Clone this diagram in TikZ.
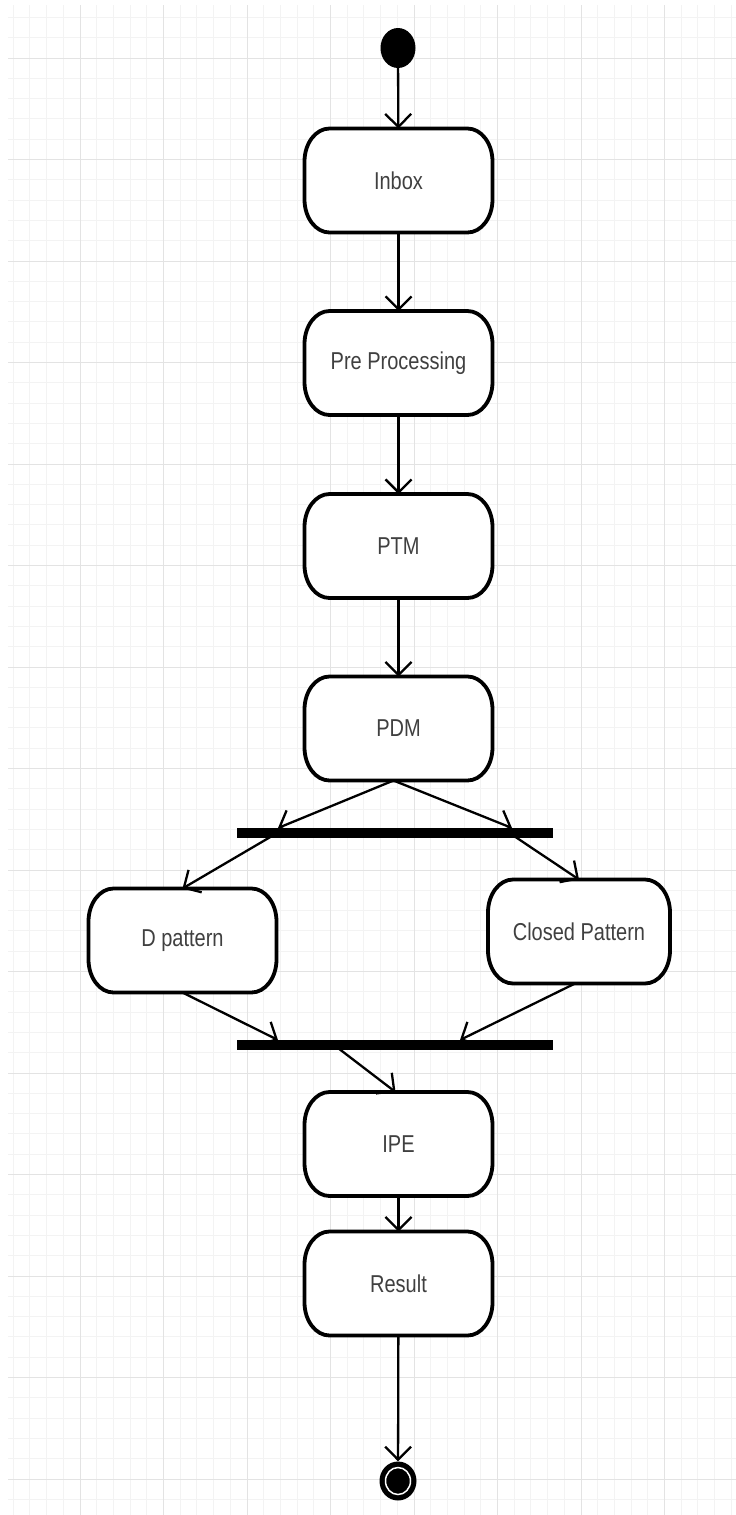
\documentclass[tikz,border=0pt]{standalone}
\usepackage{fontspec}
\setmainfont{Liberation Sans}
\usetikzlibrary{arrows.meta,shapes.geometric,calc,backgrounds}
\definecolor{txtcol}{HTML}{404040}
\definecolor{gridminor}{HTML}{F3F3F3}
\definecolor{gridmajor}{HTML}{E3E3E3}
\newcommand{\tallt}[1]{\scalebox{1}[1.22]{#1}}
\tikzset{
  act/.style={draw=none, minimum width=188pt, minimum height=104pt, inner sep=0pt,
    outer sep=0pt, text=txtcol, font=\fontsize{20}{24}\selectfont},
  actborder/.style={draw=black, fill=white, line width=3.8pt, line join=round},
  arr/.style={line width=2.3pt, -{Straight Barb[length=13pt,width=26pt,line width=2.3pt]}},
  bar/.style={fill=black, minimum width=316pt, minimum height=10pt, inner sep=0pt},
}
\begin{document}
\begin{tikzpicture}[x=1pt,y=-1pt]
\useasboundingbox (0,0) rectangle (736,1515);
% activities (text)
\node[act] (inbox) at (398.5,180.5) {\tallt{Inbox}};
\node[act] (pre) at (398.5,363) {\tallt{Pre Processing}};
\node[act] (ptm) at (398.5,546) {\tallt{PTM}};
\node[act] (pdm) at (398.5,728.5) {\tallt{PDM}};
\node[act] (dp) at (182.5,940.5) {\tallt{D pattern}};
\node[act, minimum width=182pt] (cp) at (579,931.5) {\tallt{Closed Pattern}};
\node[act] (ipe) at (398.5,1144) {\tallt{IPE}};
\node[act] (res) at (398.5,1283.5) {\tallt{Result}};
\begin{scope}[on background layer]
\fill[white] (0,0) rectangle (736,1515);
% grid
\foreach \i in {0,...,43} {
  \draw[gridminor, line width=1pt] ({13.2+16.7*\i},5) -- ({13.2+16.7*\i},1515);
}
\foreach \j in {0,...,74} {
  \draw[gridminor, line width=1pt] (8,{17.4+20.3*\j}) -- (736,{17.4+20.3*\j});
}
\foreach \i in {0,...,8} {
  \draw[gridmajor, line width=1pt] ({80+83.5*\i},5) -- ({80+83.5*\i},1515);
}
\foreach \j in {0,...,14} {
  \draw[gridmajor, line width=1pt] (8,{58+101.5*\j}) -- (736,{58+101.5*\j});
}
% box borders with elliptical corners
\foreach \n in {inbox,pre,ptm,pdm,dp,cp,ipe,res} {
  \draw[actborder]
    ($(\n.north west)+(25,0)$) -- ($(\n.north east)+(-25,0)$)
    .. controls ($(\n.north east)+(-11.2,0)$) and ($(\n.north east)+(0,14.8)$) .. ($(\n.north east)+(0,33)$)
    -- ($(\n.south east)+(0,-33)$)
    .. controls ($(\n.south east)+(0,-14.8)$) and ($(\n.south east)+(-11.2,0)$) .. ($(\n.south east)+(-25,0)$)
    -- ($(\n.south west)+(25,0)$)
    .. controls ($(\n.south west)+(11.2,0)$) and ($(\n.south west)+(0,-14.8)$) .. ($(\n.south west)+(0,-33)$)
    -- ($(\n.north west)+(0,33)$)
    .. controls ($(\n.north west)+(0,14.8)$) and ($(\n.north west)+(11.2,0)$) .. ($(\n.north west)+(25,0)$)
    -- cycle;
}
\end{scope}
% start / end
\node[fill=black, ellipse, minimum width=35pt, minimum height=40pt, inner sep=0pt] (start) at (398,48) {};
\node[fill=black, ellipse, minimum width=37pt, minimum height=39pt, inner sep=0pt] (end) at (398,1481) {};
\draw[white, line width=1.5pt] (end.center) ellipse [x radius=12.5pt, y radius=13.5pt];
% bars
\node[bar] (fork) at (394.5,833) {};
\node[bar] (join) at (394.5,1045) {};
\coordinate (forkinL) at (278,828);
\coordinate (forkinR) at (512,828);
\coordinate (forkoutL) at (272,836);
\coordinate (forkoutR) at (514,836);
\coordinate (joininL) at (278,1040);
\coordinate (joininR) at (460,1040);
\coordinate (joinout) at (338,1048);
% connectors
\draw[arr] (start) -- (inbox);
\draw[arr] (inbox) -- (pre);
\draw[arr] (pre) -- (ptm);
\draw[arr] (ptm) -- (pdm);
\draw[arr] ([xshift=-5pt]pdm.south) -- (forkinL);
\draw[arr] ([xshift=-5pt]pdm.south) -- (forkinR);
\draw[arr] (forkoutL) -- (dp.north);
\draw[arr] (forkoutR) -- (cp.north);
\draw[arr] (dp.south) -- (joininL);
\draw[arr] ([xshift=-4pt]cp.south) -- (joininR);
\draw[arr] (joinout) -- ([xshift=-3pt]ipe.north);
\draw[arr] (ipe) -- (res);
\draw[arr] (res) -- (end);
\end{tikzpicture}
\end{document}
